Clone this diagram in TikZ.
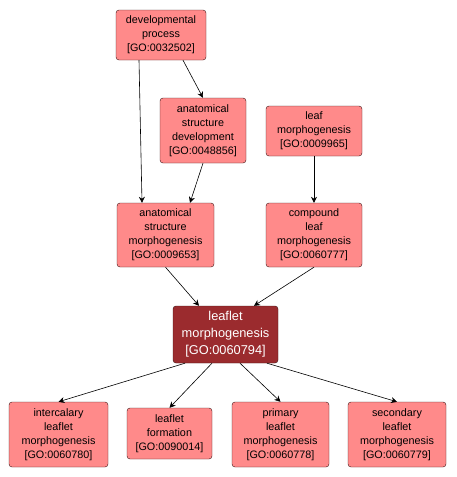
\documentclass[tikz,border=0pt]{standalone}
\usepackage{fontspec}
\setmainfont{Liberation Sans}
\usepackage{tikz}
\usetikzlibrary{arrows.meta}
\definecolor{termfill}{RGB}{255,138,138}
\definecolor{focusfill}{RGB}{155,43,46}
\definecolor{termline}{RGB}{60,20,20}
\tikzset{
     term/.style={rectangle, rounded corners=3pt, draw=termline, fill=termfill,
                  align=center, inner sep=0pt, font=\fontsize{10.8}{14}\selectfont},
     focus/.style={term, fill=focusfill, text=white, font=\fontsize{12.8}{17}\selectfont},
     arrow/.style={-{Stealth[length=6pt,width=6pt]}, line width=0.6pt}
     }

\begin{document}
\begin{tikzpicture}[x=1pt,y=-1pt]
    \useasboundingbox (0,0) rectangle (457,477);
    \node [term, minimum width=90pt, minimum height=50pt] (dp) at (161,35) {developmental\\process\\{[GO:0032502]}};
    \node [term, minimum width=86pt, minimum height=65pt] (asd) at (203,130.5) {anatomical\\structure\\development\\{[GO:0048856]}};
    \node [term, minimum width=96pt, minimum height=50pt] (lm) at (314,131) {leaf\\morphogenesis\\{[GO:0009965]}};
    \node [term, minimum width=97pt, minimum height=64pt] (asm) at (165.5,235) {anatomical\\structure\\morphogenesis\\{[GO:0009653]}};
    \node [term, minimum width=96pt, minimum height=64pt] (clm) at (314,235) {compound\\leaf\\morphogenesis\\{[GO:0060777]}};
    \node [focus, minimum width=105pt, minimum height=57pt] (lfm) at (225.5,334.5) {leaflet\\morphogenesis\\{[GO:0060794]}};
    \node [term, minimum width=99pt, minimum height=65pt] (ilm) at (58.5,434.5) {intercalary\\leaflet\\morphogenesis\\{[GO:0060780]}};
    \node [term, minimum width=85pt, minimum height=51pt] (lf) at (169.5,433.5) {leaflet\\formation\\{[GO:0090014]}};
    \node [term, minimum width=97pt, minimum height=65pt] (plm) at (280.5,434.5) {primary\\leaflet\\morphogenesis\\{[GO:0060778]}};
    \node [term, minimum width=98pt, minimum height=65pt] (slm) at (397,434.5) {secondary\\leaflet\\morphogenesis\\{[GO:0060779]}};

    \draw [arrow] ([xshift=-22pt]dp.south) -- ([xshift=-23.5pt]asm.north);
    \draw [arrow] ([xshift=22pt]dp.south) -- (asd.north);
    \draw [arrow] (asd.south) -- ([xshift=24.5pt]asm.north);
    \draw [arrow] (lm) -- (clm);
    \draw [arrow] (asm.south) -- ([xshift=-26.5pt]lfm.north);
    \draw [arrow] (clm.south) -- ([xshift=28.5pt]lfm.north);

    \draw [arrow] ([xshift=-40.5pt]lfm.south) -- (ilm.north);
    \draw [arrow] ([xshift=-13.5pt]lfm.south) -- (lf.north);
    \draw [arrow] ([xshift=14.5pt]lfm.south) -- (plm.north);
    \draw [arrow] ([xshift=41.5pt]lfm.south) -- (slm.north);
\end{tikzpicture}
\end{document}
